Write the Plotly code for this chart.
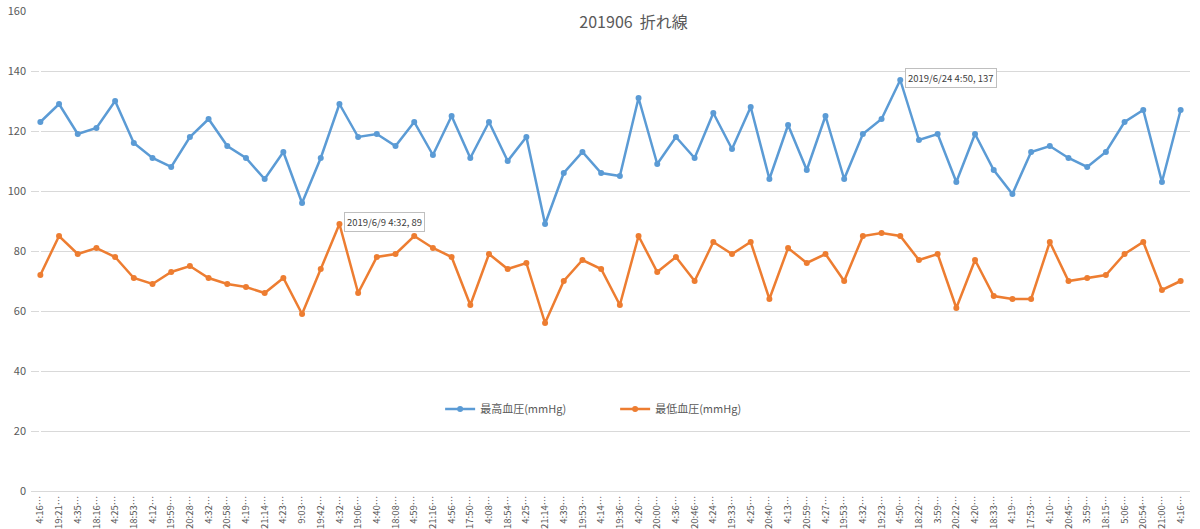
import plotly.graph_objects as go

# 201906 血圧 折れ線グラフ
times = ["4:16", "19:21", "4:35", "18:16", "4:25", "18:53", "4:12", "19:59", "20:28", "4:32",
         "20:58", "4:19", "21:14", "4:23", "9:03", "19:42", "4:32", "19:06", "4:40", "18:08",
         "4:59", "21:16", "4:56", "17:50", "4:08", "18:54", "4:25", "21:14", "4:39", "19:53",
         "4:14", "19:36", "4:20", "20:00", "4:36", "20:46", "4:24", "19:33", "4:25", "20:40",
         "4:13", "20:59", "4:27", "19:53", "4:32", "19:23", "4:50", "18:22", "3:59", "20:22",
         "4:20", "18:33", "4:19", "17:53", "4:10", "20:45", "3:59", "18:15", "5:06", "20:54",
         "21:00", "4:16"]

sys_bp = [123, 129, 119, 121, 130, 116, 111, 108, 118, 124,
          115, 111, 104, 113, 96, 111, 129, 118, 119, 115,
          123, 112, 125, 111, 123, 110, 118, 89, 106, 113,
          106, 105, 131, 109, 118, 111, 126, 114, 128, 104,
          122, 107, 125, 104, 119, 124, 137, 117, 119, 103,
          119, 107, 99, 113, 115, 111, 108, 113, 123, 127,
          103, 127]

dia_bp = [72, 85, 79, 81, 78, 71, 69, 73, 75, 71,
          69, 68, 66, 71, 59, 74, 89, 66, 78, 79,
          85, 81, 78, 62, 79, 74, 76, 56, 70, 77,
          74, 62, 85, 73, 78, 70, 83, 79, 83, 64,
          81, 76, 79, 70, 85, 86, 85, 77, 79, 61,
          77, 65, 64, 64, 83, 70, 71, 72, 79, 83,
          67, 70]

# データラベル (日付, 系列, 位置)
callouts = [("2019/6/9", "dia", 16), ("2019/6/24", "sys", 46)]

x = list(range(len(times)))
ticktext = [t + "…" for t in times]

fig = go.Figure()
fig.add_trace(go.Scatter(x=x, y=sys_bp, mode="lines+markers", name="最高血圧(mmHg)",
                         line=dict(color="#5B9BD5", width=2.5),
                         marker=dict(size=6, color="#5B9BD5")))
fig.add_trace(go.Scatter(x=x, y=dia_bp, mode="lines+markers", name="最低血圧(mmHg)",
                         line=dict(color="#ED7D31", width=2.5),
                         marker=dict(size=6, color="#ED7D31")))

series = {"sys": sys_bp, "dia": dia_bp}
for d, s, i in callouts:
  fig.add_annotation(x=i, y=series[s][i], xref="x", yref="y",
                     text=f"{d} {times[i]}, {series[s][i]}",
                     showarrow=False, xanchor="left", yanchor="middle",
                     xshift=5, yshift=2,
                     font=dict(size=9.5, color="#404040"),
                     bgcolor="white", bordercolor="#BFBFBF", borderwidth=1, borderpad=2)

fig.update_layout(
  width=1200, height=529,
  paper_bgcolor="white", plot_bgcolor="white",
  font=dict(family="Noto Sans CJK JP, Noto Sans, sans-serif", color="#595959"),
  title=dict(text="201906&nbsp;&nbsp;折れ線", x=0.528, xanchor="center",
             y=0.958, yanchor="middle", font=dict(size=16, color="#595959")),
  margin=dict(l=31, r=10, t=11, b=38, autoexpand=False),
  legend=dict(orientation="h", x=0.504, xanchor="center", y=0.171, yanchor="middle",
              font=dict(size=11, color="#595959"), bgcolor="rgba(0,0,0,0)",
              itemwidth=30, entrywidth=130),
  showlegend=True,
)
fig.update_xaxes(tickmode="array", tickvals=x, ticktext=ticktext, tickangle=-90,
                 range=[-0.5, len(times) - 0.5], showgrid=False, automargin=False,
                 showline=True, linecolor="#D9D9D9", linewidth=1,
                 tickfont=dict(size=9.5, color="#595959"), ticks="", ticklabelstandoff=0)
fig.update_yaxes(range=[0, 160], dtick=20, showgrid=True, gridcolor="#D9D9D9", gridwidth=1,
                 zeroline=False, showline=False, tickfont=dict(size=11, color="#595959"),
                 ticks="", automargin=False, ticklabelstandoff=4)

# ページの余白を消す
fig.write_html("out.html", config={"displayModeBar": False},
               post_script="document.body.style.margin='0';")
